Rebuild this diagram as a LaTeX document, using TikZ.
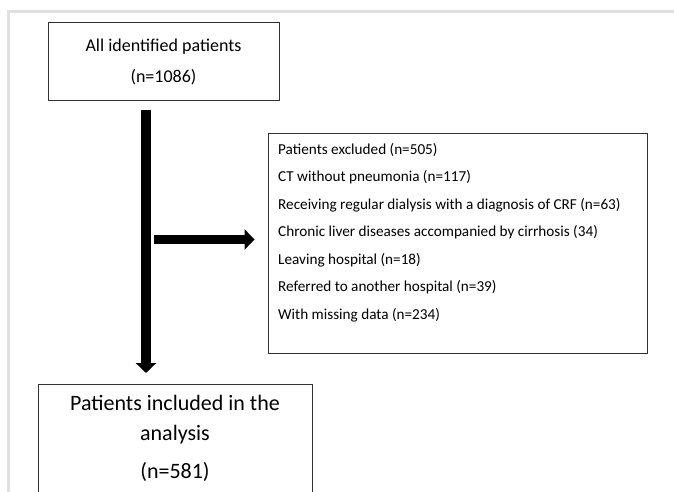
\documentclass[tikz,border=0pt]{standalone}
\usepackage{fontspec}
\setmainfont{Carlito}
\usetikzlibrary{arrows.meta,positioning,calc}
\tikzset{
  box/.style={draw=black!80, line width=0.9pt, inner sep=0pt, align=center},
  flowarrow/.style={line width=10pt, -{Triangle[width=20pt,length=10pt]}},
  exclline/.style={inner sep=0pt, anchor=west, font=\fontsize{15.2}{18}\selectfont},
  frame/.style={draw=black!12, line width=3pt}
}
\begin{document}
\begin{tikzpicture}[x=1pt, y=-1pt]
  \clip (0,0) rectangle (674,492);
  % screenshot frame
  \draw[frame] (8,492) |- (674,12);

  % Boxes
  \node[box, minimum width=231pt, minimum height=78pt,
        font=\fontsize{18}{20}\selectfont] (all) at (163.5,61.5)
        {All identified patients\\[11pt](n=1086)};
  \node[box, minimum width=379pt, minimum height=220pt] (excl) at (457.5,243) {};
  \node[box, minimum width=274pt, minimum height=140pt, anchor=north] (incl) at (175,384) {};

  % Exclusion list
  \foreach \txt [count=\i] in {Patients excluded (n=505),
      CT without pneumonia (n=117),
      Receiving regular dialysis with a diagnosis of CRF (n=63),
      Chronic liver diseases accompanied by cirrhosis (34),
      Leaving hospital (n=18),
      Referred to another hospital (n=39),
      With missing data (n=234)}
    \node[exclline] (excl-\i) at (278,{150+27.5*(\i-1)}) {\txt};

  % Inclusion text
  \node[font=\fontsize{22}{30}\selectfont, align=center, inner sep=0pt]
    (incl-text) at (175,438) {Patients included in the\\analysis\\[8pt](n=581)};

  % Arrows
  \coordinate (split) at (146,239.5);
  \draw[flowarrow, shorten <=9pt, shorten >=11pt]
    ([xshift=-17.5pt]all.south) -- ([xshift=-17.5pt]all.south |- incl.north);
  \draw[flowarrow, line width=9.5pt, shorten >=13pt]
    ([xshift=8pt]split) -- (split -| excl.west);
\end{tikzpicture}
\end{document}
